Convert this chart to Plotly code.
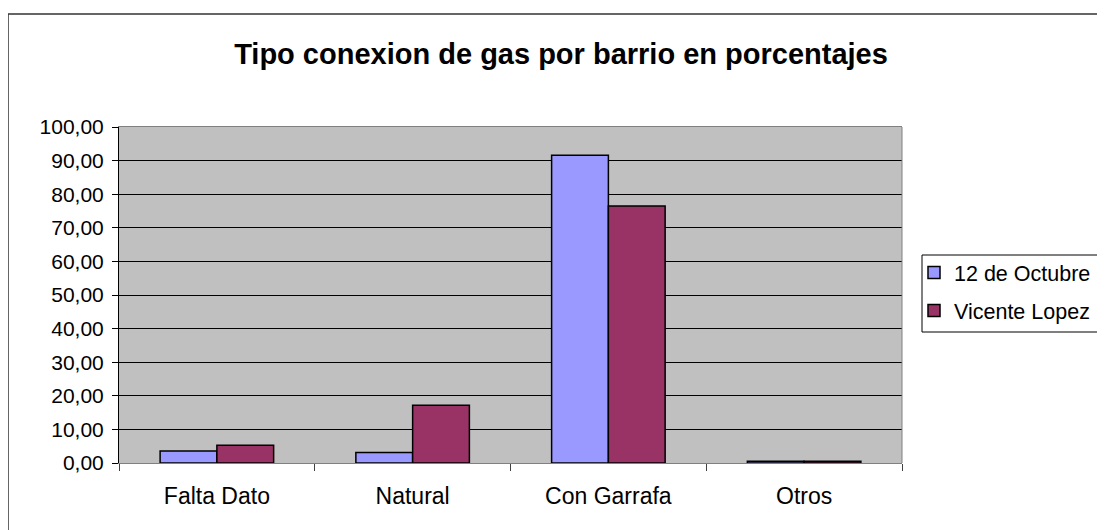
import plotly.graph_objects as go

# datos
categorias = ["Falta Dato", "Natural", "Con Garrafa", "Otros"]
octubre = [3.6, 3.1, 91.6, 0.5]
vicente = [5.3, 17.2, 76.5, 0.5]
series = ["12 de Octubre", "Vicente Lopez"]
ticks_y = [0, 10, 20, 30, 40, 50, 60, 70, 80, 90, 100]

W, H = 1105, 530
OFF = 8  # margen del body de la pagina
# area de trazado en coordenadas de la pagina: x 119..902, y 127..463
L, R = 119 - OFF, W - (902 - OFF)
T, B = 127 - OFF, H - (463 - OFF)
pw, ph = W - L - R, H - T - B


def px_x(x):
    return (x - OFF - L) / pw


def px_y(y):
    return (H - B - (y - OFF)) / ph


fig = go.Figure()
fig.add_bar(x=categorias, y=octubre, name=series[0], legendgroup="a",
            marker=dict(color="#9999FF", line=dict(color="black", width=1.5)))
fig.add_bar(x=categorias, y=vicente, name=series[1], legendgroup="b",
            marker=dict(color="#993366", line=dict(color="black", width=1.5)))

fig.update_layout(
    width=W, height=H,
    margin=dict(l=L, r=R, t=T, b=B, autoexpand=False),
    paper_bgcolor="white", plot_bgcolor="#C0C0C0",
    separators=",.",
    font=dict(family="Liberation Sans, Arial", color="black", size=21),
    barmode="group", bargap=0.42, bargroupgap=0,
    title=dict(text="<b>Tipo conexion de gas por barrio en porcentajes</b>",
               x=(561 - OFF) / W, xanchor="center", y=1 - (54 - OFF) / H,
               yanchor="middle", font=dict(size=29)),
    legend=dict(x=px_x(914), y=px_y(252), xanchor="left", yanchor="top",
                bgcolor="rgba(0,0,0,0)", font=dict(size=21.5),
                tracegroupgap=7, itemwidth=30),
    showlegend=True,
)

fig.update_xaxes(type="category", range=[-0.5, 3.5], showgrid=False,
                 showline=True, linecolor="#808080", linewidth=1, mirror=True,
                 ticks="outside", tickson="boundaries", ticklen=7,
                 tickcolor="#404040", tickfont=dict(size=23),
                 ticklabelstandoff=12)
fig.update_yaxes(range=[0, 100], tickvals=ticks_y, tickformat=".2f",
                 showgrid=True, gridcolor="black", gridwidth=1,
                 showline=True, linecolor="black", linewidth=1,
                 ticks="outside", ticklen=6, tickcolor="black",
                 zeroline=False, ticklabelstandoff=4)

# borde derecho gris del area de trazado
fig.add_shape(type="line", xref="paper", yref="paper", x0=1, x1=1, y0=0, y1=1,
              line=dict(color="#808080", width=1))
# marco de la leyenda
fig.add_shape(type="rect", xref="paper", yref="paper",
              x0=px_x(922), x1=px_x(1130), y0=px_y(255), y1=px_y(332),
              line=dict(color="black", width=1))
# marco exterior del grafico
fig.add_shape(type="rect", xref="paper", yref="paper",
              x0=px_x(8), x1=px_x(1140), y0=px_y(14), y1=px_y(560),
              line=dict(color="#333333", width=1.5))

fig.write_html("out.html")
